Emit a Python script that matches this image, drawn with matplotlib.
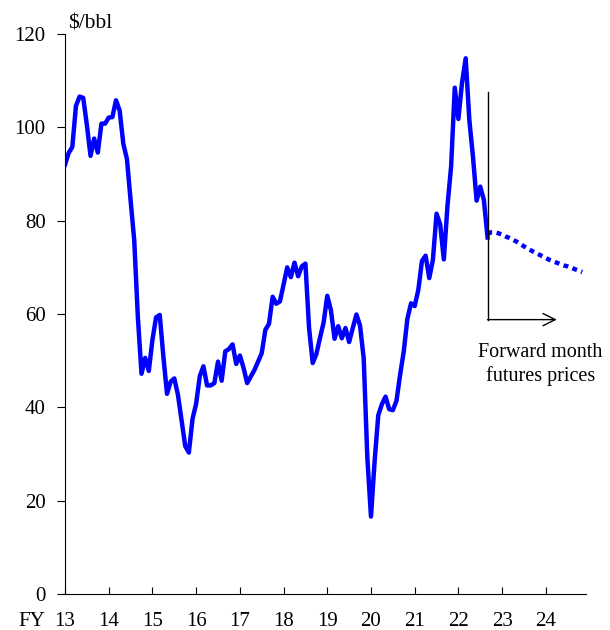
import numpy as np
import matplotlib
matplotlib.use('Agg')
from matplotlib import pyplot as plt

plt.rcParams['font.family'] = ['Liberation Serif', 'DejaVu Serif']

# monthly crude oil price, Apr 2013 (start of FY13) .. Dec 2022, $/bbl
precios = [92.0, 94.5, 95.8, 104.6, 106.6, 106.3, 100.5, 93.9, 97.6, 94.6, 100.8, 100.8,
           102.1, 102.2, 105.8, 103.6, 96.5, 93.2, 84.4, 75.8, 59.3, 47.2, 50.6, 47.8,
           54.5, 59.3, 59.8, 50.9, 42.9, 45.5, 46.2, 42.7, 37.2, 31.7, 30.3, 37.5,
           40.8, 46.7, 48.8, 44.7, 44.7, 45.2, 49.8, 45.7, 52.0, 52.5, 53.5, 49.3,
           51.1, 48.5, 45.2, 46.6, 48.0, 49.8, 51.6, 56.6, 57.9, 63.7, 62.2, 62.7,
           66.3, 70.0, 67.9, 71.0, 68.1, 70.2, 70.8, 57.0, 49.5, 51.4, 54.9, 58.2,
           63.9, 60.8, 54.7, 57.4, 54.8, 57.0, 54.0, 57.0, 59.9, 57.5, 50.5, 29.2,
           16.6, 28.5, 38.3, 40.7, 42.3, 39.6, 39.4, 41.4, 47.0, 52.0, 59.0, 62.3,
           61.7, 65.2, 71.4, 72.5, 67.7, 71.6, 81.5, 79.2, 71.7, 83.2, 91.6, 108.5,
           101.8, 109.6, 114.8, 101.6, 93.7, 84.3, 87.3, 84.4, 76.4]

# forward month futures, Dec 2022 .. Feb 2025
futuros = [77.2, 77.5, 77.5, 77.3, 77.0, 76.6, 76.3, 75.9, 75.5, 75.0, 74.5, 74.0,
           73.6, 73.2, 72.8, 72.4, 72.0, 71.6, 71.3, 71.0, 70.7, 70.4, 70.2, 69.9,
           69.6, 69.3, 69.0]

anyos = list(range(13, 25))
etiquetas_y = [0, 20, 40, 60, 80, 100, 120]

x_precios = 13 + np.arange(len(precios)) / 12
x_futuros = x_precios[-1] + np.arange(len(futuros)) / 12

fig = plt.figure(figsize=(6.1, 6.3), dpi=100)
ax = fig.add_axes([0.1066, 0.0571, 0.8541, 0.8889])

ax.plot(x_precios, precios, color='#0000FF', lw=3.2, solid_joinstyle='round')
ax.plot(x_futuros, futuros, color='#0000FF', lw=3.2, linestyle=(0, (1.1, 1.0)))

# marker for start of futures
x0 = x_precios[-1]
ax.plot([x0, x0], [107.5, 58.8], color='black', lw=1)
ax.annotate('', xy=(24.25, 58.8), xytext=(x0, 58.8),
            arrowprops=dict(arrowstyle='->', color='black', lw=1,
                            mutation_scale=22, shrinkA=0, shrinkB=0))
ax.text(23.87, 49.2, 'Forward month\nfutures prices', ha='center', va='center',
        fontsize=14.5, linespacing=1.25)

ax.set_xlim(13, 24.92)
ax.set_ylim(0, 120)
ax.spines['top'].set_visible(False)
ax.spines['right'].set_visible(False)
ax.set_xticks(anyos)
ax.set_xticklabels([str(a) for a in anyos])
ax.set_yticks(etiquetas_y)
ax.tick_params(axis='x', direction='in', length=5, labelsize=15, pad=13)
ax.tick_params(axis='y', direction='out', length=6, labelsize=15, pad=8)
ax.annotate('FY', xy=(13, 0), xycoords='data', xytext=(-24, -13),
            textcoords='offset points', ha='center', va='top', fontsize=15)
ax.text(0.006, 1.0107, '$/bbl', transform=ax.transAxes, fontsize=15.5,
        ha='left', va='baseline')

fig.savefig('out.png', dpi=100)
